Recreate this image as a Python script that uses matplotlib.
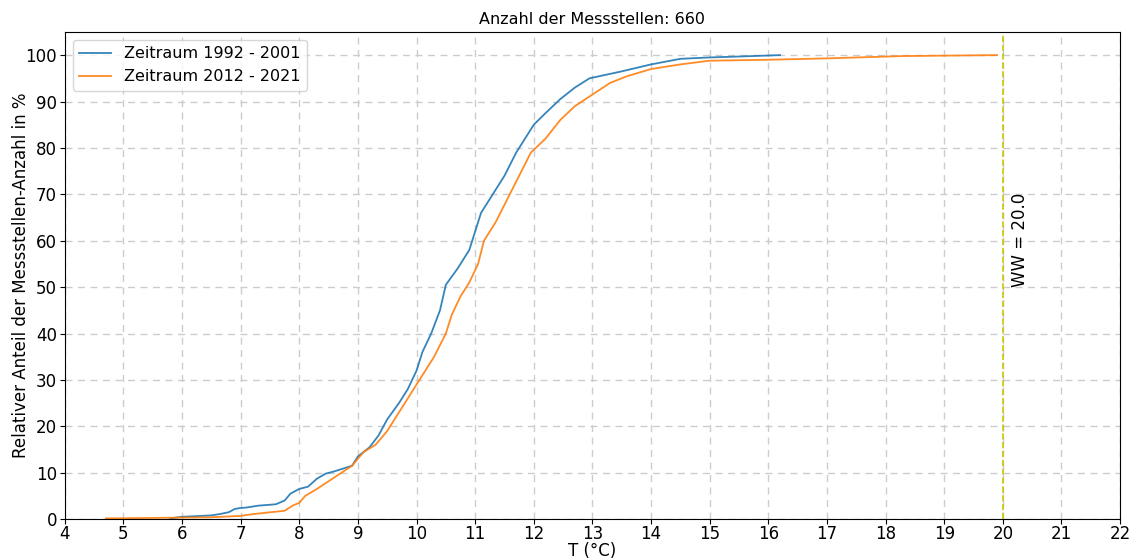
import numpy as np
from matplotlib import pyplot as plt

# Zeitraum 1992 - 2001: Temperatur (°C) und relativer Anteil (%)
t_alt = [5.8, 6.0, 6.5, 6.65, 6.8, 6.9, 7.0, 7.1, 7.3, 7.6, 7.75, 7.85, 8.0, 8.15,
         8.3, 8.45, 8.6, 8.9, 9.0, 9.2, 9.35, 9.5, 9.7, 9.85, 10.0, 10.1, 10.25,
         10.4, 10.5, 10.7, 10.9, 11.0, 11.1, 11.3, 11.5, 11.7, 11.85, 12.0, 12.2,
         12.45, 12.7, 12.95, 13.5, 14.0, 14.5, 15.0, 15.5, 16.2]
p_alt = [0.15, 0.5, 0.8, 1.1, 1.5, 2.2, 2.4, 2.5, 2.9, 3.2, 4.0, 5.5, 6.5, 7.0,
         8.7, 9.8, 10.3, 11.5, 13.5, 15.5, 18.0, 21.5, 25.0, 28.0, 32.0, 36.0, 40.0,
         45.0, 50.5, 54.0, 58.0, 62.0, 66.0, 70.0, 74.0, 79.0, 82.0, 85.0, 87.5,
         90.5, 93.0, 95.0, 96.5, 98.0, 99.2, 99.5, 99.7, 100.0]

# Zeitraum 2012 - 2021
t_neu = [4.7, 5.8, 6.5, 7.0, 7.1, 7.3, 7.75, 7.9, 8.0, 8.1, 8.3, 8.6, 8.9, 9.1,
         9.3, 9.5, 9.7, 9.9, 10.1, 10.3, 10.5, 10.6, 10.75, 10.9, 11.05, 11.15,
         11.35, 11.55, 11.75, 11.95, 12.2, 12.45, 12.7, 13.0, 13.3, 13.6, 14.0,
         14.5, 15.0, 16.0, 17.0, 18.3, 19.9]
p_neu = [0.15, 0.3, 0.4, 0.7, 0.9, 1.2, 1.8, 3.0, 3.5, 5.0, 6.5, 9.0, 11.5, 14.5,
         16.0, 19.0, 23.0, 27.0, 31.0, 35.0, 40.0, 44.0, 48.0, 51.0, 55.0, 60.0,
         64.0, 69.0, 74.0, 79.0, 82.0, 86.0, 89.0, 91.5, 94.0, 95.5, 97.0,
         98.0, 98.8, 99.0, 99.3, 99.8, 100.0]

ww = 20.0
anzahl = 660

fig = plt.figure(figsize=(11.36, 5.6), dpi=100)
ax = fig.add_axes([0.057, 0.073, 0.929, 0.87])

ax.plot(t_alt, p_alt, color='#1f77b4', linewidth=1.3, alpha=0.9,
        label='Zeitraum 1992 - 2001')
ax.plot(t_neu, p_neu, color='#ff7f0e', linewidth=1.3, alpha=0.9,
        label='Zeitraum 2012 - 2021')

# Grenzwert
ax.axvline(ww, color='#c8c800', linestyle='--', linewidth=1.2)
ax.text(ww + 0.3, 50, 'WW = ' + str(ww), rotation=90, fontsize=12,
        va='bottom', ha='center')

ax.set_xlim(4, 22)
ax.set_ylim(0, 105)
ax.set_xticks(np.arange(4, 23, 1))
ax.set_yticks(np.arange(0, 101, 10))
ax.tick_params(labelsize=12, pad=2)
ax.tick_params(axis='x', pad=1)
ax.grid(True, linestyle=(0, (5, 4)), color='#cccccc', linewidth=1)
ax.set_axisbelow(True)

ax.set_title('Anzahl der Messstellen: ' + str(anzahl), fontsize=11.5)
ax.set_xlabel('T (°C)', fontsize=12, labelpad=-1)
ax.set_ylabel('Relativer Anteil der Messstellen-Anzahl in %', fontsize=12,
              labelpad=-3)
ax.legend(loc='upper left', fontsize=11.5)

plt.savefig('out.png')
